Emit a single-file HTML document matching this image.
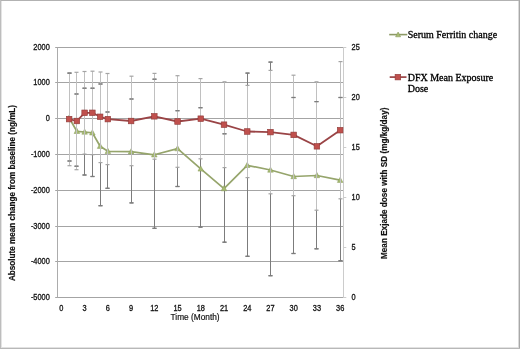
<!DOCTYPE html><html><head><meta charset="utf-8"><style>
html,body{margin:0;padding:0;background:#fff;}
body{width:520px;height:349px;overflow:hidden;position:relative;}
svg{position:absolute;left:0;top:0;filter:blur(0.32px);}
.s{font-family:"Liberation Sans",sans-serif;fill:#111;stroke:#111;stroke-width:0.18px;}
.t{stroke-width:0.3px;}
.r{font-family:"Liberation Serif",serif;fill:#000;stroke:#000;stroke-width:0.3px;}
</style></head><body>
<svg width="520" height="349" viewBox="0 0 520 349">
<rect x="0" y="0" width="520" height="349" fill="#fff"/>
<line x1="55.2" y1="47.50" x2="343.5" y2="47.50" stroke="#a4a4a4" stroke-width="1"/>
<line x1="55.2" y1="82.50" x2="343.5" y2="82.50" stroke="#a4a4a4" stroke-width="1"/>
<line x1="55.2" y1="118.50" x2="343.5" y2="118.50" stroke="#a4a4a4" stroke-width="1"/>
<line x1="55.2" y1="154.50" x2="343.5" y2="154.50" stroke="#a4a4a4" stroke-width="1"/>
<line x1="55.2" y1="190.50" x2="343.5" y2="190.50" stroke="#a4a4a4" stroke-width="1"/>
<line x1="55.2" y1="226.50" x2="343.5" y2="226.50" stroke="#a4a4a4" stroke-width="1"/>
<line x1="55.2" y1="261.50" x2="343.5" y2="261.50" stroke="#a4a4a4" stroke-width="1"/>
<line x1="55.2" y1="297.50" x2="343.5" y2="297.50" stroke="#a4a4a4" stroke-width="1"/>
<line x1="57.5" y1="47.5" x2="57.5" y2="297.5" stroke="#acacac" stroke-width="1"/>
<line x1="343.5" y1="47.5" x2="343.5" y2="297.5" stroke="#cccccc" stroke-width="1"/>
<line x1="343.5" y1="47.50" x2="346.3" y2="47.50" stroke="#cccccc" stroke-width="1"/>
<line x1="343.5" y1="97.50" x2="346.3" y2="97.50" stroke="#cccccc" stroke-width="1"/>
<line x1="343.5" y1="147.50" x2="346.3" y2="147.50" stroke="#cccccc" stroke-width="1"/>
<line x1="343.5" y1="197.50" x2="346.3" y2="197.50" stroke="#cccccc" stroke-width="1"/>
<line x1="343.5" y1="247.50" x2="346.3" y2="247.50" stroke="#cccccc" stroke-width="1"/>
<line x1="343.5" y1="297.50" x2="346.3" y2="297.50" stroke="#cccccc" stroke-width="1"/>
<text class="s t" transform="translate(49.8,50.30) scale(0.88,1)" font-size="8.4" text-anchor="end">2000</text>
<text class="s t" transform="translate(49.8,85.30) scale(0.88,1)" font-size="8.4" text-anchor="end">1000</text>
<text class="s t" transform="translate(49.8,121.30) scale(0.88,1)" font-size="8.4" text-anchor="end">0</text>
<text class="s t" transform="translate(49.8,157.30) scale(0.88,1)" font-size="8.4" text-anchor="end">-1000</text>
<text class="s t" transform="translate(49.8,193.30) scale(0.88,1)" font-size="8.4" text-anchor="end">-2000</text>
<text class="s t" transform="translate(49.8,229.30) scale(0.88,1)" font-size="8.4" text-anchor="end">-3000</text>
<text class="s t" transform="translate(49.8,264.30) scale(0.88,1)" font-size="8.4" text-anchor="end">-4000</text>
<text class="s t" transform="translate(49.8,300.30) scale(0.88,1)" font-size="8.4" text-anchor="end">-5000</text>
<text class="s t" transform="translate(351.6,49.90) scale(0.88,1)" font-size="8.4">25</text>
<text class="s t" transform="translate(351.6,99.90) scale(0.88,1)" font-size="8.4">20</text>
<text class="s t" transform="translate(351.6,149.90) scale(0.88,1)" font-size="8.4">15</text>
<text class="s t" transform="translate(351.6,199.90) scale(0.88,1)" font-size="8.4">10</text>
<text class="s t" transform="translate(351.6,249.90) scale(0.88,1)" font-size="8.4">5</text>
<text class="s t" transform="translate(351.6,299.90) scale(0.88,1)" font-size="8.4">0</text>
<text class="s t" transform="translate(61.40,310.9) scale(0.88,1)" font-size="8.4" text-anchor="middle">0</text>
<text class="s t" transform="translate(84.63,310.9) scale(0.88,1)" font-size="8.4" text-anchor="middle">3</text>
<text class="s t" transform="translate(107.86,310.9) scale(0.88,1)" font-size="8.4" text-anchor="middle">6</text>
<text class="s t" transform="translate(131.09,310.9) scale(0.88,1)" font-size="8.4" text-anchor="middle">9</text>
<text class="s t" transform="translate(154.32,310.9) scale(0.88,1)" font-size="8.4" text-anchor="middle">12</text>
<text class="s t" transform="translate(177.55,310.9) scale(0.88,1)" font-size="8.4" text-anchor="middle">15</text>
<text class="s t" transform="translate(200.77,310.9) scale(0.88,1)" font-size="8.4" text-anchor="middle">18</text>
<text class="s t" transform="translate(224.00,310.9) scale(0.88,1)" font-size="8.4" text-anchor="middle">21</text>
<text class="s t" transform="translate(247.23,310.9) scale(0.88,1)" font-size="8.4" text-anchor="middle">24</text>
<text class="s t" transform="translate(270.46,310.9) scale(0.88,1)" font-size="8.4" text-anchor="middle">27</text>
<text class="s t" transform="translate(293.69,310.9) scale(0.88,1)" font-size="8.4" text-anchor="middle">30</text>
<text class="s t" transform="translate(316.92,310.9) scale(0.88,1)" font-size="8.4" text-anchor="middle">33</text>
<text class="s t" transform="translate(340.15,310.9) scale(0.88,1)" font-size="8.4" text-anchor="middle">36</text>
<text class="s" x="195.1" y="319.7" font-size="8.3" text-anchor="middle">Time (Month)</text>
<text class="s" font-weight="bold" font-size="8.15" text-anchor="middle" transform="translate(15.3,193) rotate(-90)">Absolute mean change from baseline (ng/mL)</text>
<text class="s" font-weight="bold" font-size="8.2" text-anchor="middle" transform="translate(387.3,183.3) rotate(-90)">Mean Exjade dose with SD (mg/kg/day)</text>
<line x1="69.50" y1="73.20" x2="69.50" y2="161.00" stroke="#7c7c7c" stroke-width="1"/>
<line x1="67.50" y1="73.20" x2="71.50" y2="73.20" stroke="#7c7c7c" stroke-width="1.2"/>
<line x1="67.50" y1="161.00" x2="71.50" y2="161.00" stroke="#7c7c7c" stroke-width="1.2"/>
<line x1="76.50" y1="94.00" x2="76.50" y2="166.20" stroke="#7c7c7c" stroke-width="1"/>
<line x1="74.50" y1="94.00" x2="78.50" y2="94.00" stroke="#7c7c7c" stroke-width="1.2"/>
<line x1="74.50" y1="166.20" x2="78.50" y2="166.20" stroke="#7c7c7c" stroke-width="1.2"/>
<line x1="84.50" y1="88.20" x2="84.50" y2="175.00" stroke="#7c7c7c" stroke-width="1"/>
<line x1="82.50" y1="88.20" x2="86.50" y2="88.20" stroke="#7c7c7c" stroke-width="1.2"/>
<line x1="82.50" y1="175.00" x2="86.50" y2="175.00" stroke="#7c7c7c" stroke-width="1.2"/>
<line x1="92.50" y1="88.20" x2="92.50" y2="176.50" stroke="#7c7c7c" stroke-width="1"/>
<line x1="90.50" y1="88.20" x2="94.50" y2="88.20" stroke="#7c7c7c" stroke-width="1.2"/>
<line x1="90.50" y1="176.50" x2="94.50" y2="176.50" stroke="#7c7c7c" stroke-width="1.2"/>
<line x1="100.50" y1="84.00" x2="100.50" y2="205.70" stroke="#7c7c7c" stroke-width="1"/>
<line x1="98.50" y1="84.00" x2="102.50" y2="84.00" stroke="#7c7c7c" stroke-width="1.2"/>
<line x1="98.50" y1="205.70" x2="102.50" y2="205.70" stroke="#7c7c7c" stroke-width="1.2"/>
<line x1="107.50" y1="112.00" x2="107.50" y2="188.30" stroke="#7c7c7c" stroke-width="1"/>
<line x1="105.50" y1="112.00" x2="109.50" y2="112.00" stroke="#7c7c7c" stroke-width="1.2"/>
<line x1="105.50" y1="188.30" x2="109.50" y2="188.30" stroke="#7c7c7c" stroke-width="1.2"/>
<line x1="131.50" y1="99.00" x2="131.50" y2="202.90" stroke="#7c7c7c" stroke-width="1"/>
<line x1="129.50" y1="99.00" x2="133.50" y2="99.00" stroke="#7c7c7c" stroke-width="1.2"/>
<line x1="129.50" y1="202.90" x2="133.50" y2="202.90" stroke="#7c7c7c" stroke-width="1.2"/>
<line x1="154.50" y1="79.20" x2="154.50" y2="228.30" stroke="#7c7c7c" stroke-width="1"/>
<line x1="152.50" y1="79.20" x2="156.50" y2="79.20" stroke="#7c7c7c" stroke-width="1.2"/>
<line x1="152.50" y1="228.30" x2="156.50" y2="228.30" stroke="#7c7c7c" stroke-width="1.2"/>
<line x1="177.50" y1="110.70" x2="177.50" y2="186.50" stroke="#7c7c7c" stroke-width="1"/>
<line x1="175.50" y1="110.70" x2="179.50" y2="110.70" stroke="#7c7c7c" stroke-width="1.2"/>
<line x1="175.50" y1="186.50" x2="179.50" y2="186.50" stroke="#7c7c7c" stroke-width="1.2"/>
<line x1="200.50" y1="107.70" x2="200.50" y2="227.10" stroke="#7c7c7c" stroke-width="1"/>
<line x1="198.50" y1="107.70" x2="202.50" y2="107.70" stroke="#7c7c7c" stroke-width="1.2"/>
<line x1="198.50" y1="227.10" x2="202.50" y2="227.10" stroke="#7c7c7c" stroke-width="1.2"/>
<line x1="224.50" y1="133.80" x2="224.50" y2="242.20" stroke="#7c7c7c" stroke-width="1"/>
<line x1="222.50" y1="133.80" x2="226.50" y2="133.80" stroke="#7c7c7c" stroke-width="1.2"/>
<line x1="222.50" y1="242.20" x2="226.50" y2="242.20" stroke="#7c7c7c" stroke-width="1.2"/>
<line x1="247.50" y1="73.10" x2="247.50" y2="256.30" stroke="#7c7c7c" stroke-width="1"/>
<line x1="245.50" y1="73.10" x2="249.50" y2="73.10" stroke="#7c7c7c" stroke-width="1.2"/>
<line x1="245.50" y1="256.30" x2="249.50" y2="256.30" stroke="#7c7c7c" stroke-width="1.2"/>
<line x1="270.50" y1="62.10" x2="270.50" y2="275.70" stroke="#7c7c7c" stroke-width="1"/>
<line x1="268.50" y1="62.10" x2="272.50" y2="62.10" stroke="#7c7c7c" stroke-width="1.2"/>
<line x1="268.50" y1="275.70" x2="272.50" y2="275.70" stroke="#7c7c7c" stroke-width="1.2"/>
<line x1="293.50" y1="97.50" x2="293.50" y2="253.50" stroke="#7c7c7c" stroke-width="1"/>
<line x1="291.50" y1="97.50" x2="295.50" y2="97.50" stroke="#7c7c7c" stroke-width="1.2"/>
<line x1="291.50" y1="253.50" x2="295.50" y2="253.50" stroke="#7c7c7c" stroke-width="1.2"/>
<line x1="316.50" y1="101.60" x2="316.50" y2="248.80" stroke="#7c7c7c" stroke-width="1"/>
<line x1="314.50" y1="101.60" x2="318.50" y2="101.60" stroke="#7c7c7c" stroke-width="1.2"/>
<line x1="314.50" y1="248.80" x2="318.50" y2="248.80" stroke="#7c7c7c" stroke-width="1.2"/>
<line x1="340.50" y1="97.50" x2="340.50" y2="260.70" stroke="#7c7c7c" stroke-width="1"/>
<line x1="338.50" y1="97.50" x2="342.50" y2="97.50" stroke="#7c7c7c" stroke-width="1.2"/>
<line x1="338.50" y1="260.70" x2="342.50" y2="260.70" stroke="#7c7c7c" stroke-width="1.2"/>
<polyline points="69.14,118.00 76.89,131.30 84.63,132.00 92.37,132.80 100.12,146.20 107.86,151.30 131.09,151.70 154.32,154.80 177.55,148.60 200.77,168.90 224.00,188.60 247.23,165.30 270.46,170.00 293.69,176.50 316.92,175.50 340.15,180.20" fill="none" stroke="#96a56c" stroke-width="1.7" stroke-linejoin="round"/>
<path d="M69.14,115.00 L71.94,120.20 L66.34,120.20 Z" fill="#a8bc72" stroke="#86985a" stroke-width="0.5"/>
<path d="M76.89,128.30 L79.69,133.50 L74.09,133.50 Z" fill="#a8bc72" stroke="#86985a" stroke-width="0.5"/>
<path d="M84.63,129.00 L87.43,134.20 L81.83,134.20 Z" fill="#a8bc72" stroke="#86985a" stroke-width="0.5"/>
<path d="M92.37,129.80 L95.17,135.00 L89.57,135.00 Z" fill="#a8bc72" stroke="#86985a" stroke-width="0.5"/>
<path d="M100.12,143.20 L102.92,148.40 L97.32,148.40 Z" fill="#a8bc72" stroke="#86985a" stroke-width="0.5"/>
<path d="M107.86,148.30 L110.66,153.50 L105.06,153.50 Z" fill="#a8bc72" stroke="#86985a" stroke-width="0.5"/>
<path d="M131.09,148.70 L133.89,153.90 L128.29,153.90 Z" fill="#a8bc72" stroke="#86985a" stroke-width="0.5"/>
<path d="M154.32,151.80 L157.12,157.00 L151.52,157.00 Z" fill="#a8bc72" stroke="#86985a" stroke-width="0.5"/>
<path d="M177.55,145.60 L180.35,150.80 L174.75,150.80 Z" fill="#a8bc72" stroke="#86985a" stroke-width="0.5"/>
<path d="M200.77,165.90 L203.57,171.10 L197.97,171.10 Z" fill="#a8bc72" stroke="#86985a" stroke-width="0.5"/>
<path d="M224.00,185.60 L226.80,190.80 L221.20,190.80 Z" fill="#a8bc72" stroke="#86985a" stroke-width="0.5"/>
<path d="M247.23,162.30 L250.03,167.50 L244.43,167.50 Z" fill="#a8bc72" stroke="#86985a" stroke-width="0.5"/>
<path d="M270.46,167.00 L273.26,172.20 L267.66,172.20 Z" fill="#a8bc72" stroke="#86985a" stroke-width="0.5"/>
<path d="M293.69,173.50 L296.49,178.70 L290.89,178.70 Z" fill="#a8bc72" stroke="#86985a" stroke-width="0.5"/>
<path d="M316.92,172.50 L319.72,177.70 L314.12,177.70 Z" fill="#a8bc72" stroke="#86985a" stroke-width="0.5"/>
<path d="M340.15,177.20 L342.95,182.40 L337.35,182.40 Z" fill="#a8bc72" stroke="#86985a" stroke-width="0.5"/>
<line x1="69.50" y1="72.80" x2="69.50" y2="165.70" stroke="#c0c0c0" stroke-width="1"/>
<line x1="67.50" y1="72.80" x2="71.50" y2="72.80" stroke="#a4a4a4" stroke-width="1.2"/>
<line x1="67.50" y1="165.70" x2="71.50" y2="165.70" stroke="#a4a4a4" stroke-width="1.2"/>
<line x1="76.50" y1="72.30" x2="76.50" y2="169.70" stroke="#c0c0c0" stroke-width="1"/>
<line x1="74.50" y1="72.30" x2="78.50" y2="72.30" stroke="#a4a4a4" stroke-width="1.2"/>
<line x1="74.50" y1="169.70" x2="78.50" y2="169.70" stroke="#a4a4a4" stroke-width="1.2"/>
<line x1="84.50" y1="71.50" x2="84.50" y2="154.10" stroke="#c0c0c0" stroke-width="1"/>
<line x1="82.50" y1="71.50" x2="86.50" y2="71.50" stroke="#a4a4a4" stroke-width="1.2"/>
<line x1="82.50" y1="154.10" x2="86.50" y2="154.10" stroke="#a4a4a4" stroke-width="1.2"/>
<line x1="92.50" y1="71.20" x2="92.50" y2="154.70" stroke="#c0c0c0" stroke-width="1"/>
<line x1="90.50" y1="71.20" x2="94.50" y2="71.20" stroke="#a4a4a4" stroke-width="1.2"/>
<line x1="90.50" y1="154.70" x2="94.50" y2="154.70" stroke="#a4a4a4" stroke-width="1.2"/>
<line x1="100.50" y1="72.00" x2="100.50" y2="162.60" stroke="#c0c0c0" stroke-width="1"/>
<line x1="98.50" y1="72.00" x2="102.50" y2="72.00" stroke="#a4a4a4" stroke-width="1.2"/>
<line x1="98.50" y1="162.60" x2="102.50" y2="162.60" stroke="#a4a4a4" stroke-width="1.2"/>
<line x1="107.50" y1="73.50" x2="107.50" y2="164.60" stroke="#c0c0c0" stroke-width="1"/>
<line x1="105.50" y1="73.50" x2="109.50" y2="73.50" stroke="#a4a4a4" stroke-width="1.2"/>
<line x1="105.50" y1="164.60" x2="109.50" y2="164.60" stroke="#a4a4a4" stroke-width="1.2"/>
<line x1="131.50" y1="76.20" x2="131.50" y2="165.70" stroke="#c0c0c0" stroke-width="1"/>
<line x1="129.50" y1="76.20" x2="133.50" y2="76.20" stroke="#a4a4a4" stroke-width="1.2"/>
<line x1="129.50" y1="165.70" x2="133.50" y2="165.70" stroke="#a4a4a4" stroke-width="1.2"/>
<line x1="154.50" y1="73.40" x2="154.50" y2="159.20" stroke="#c0c0c0" stroke-width="1"/>
<line x1="152.50" y1="73.40" x2="156.50" y2="73.40" stroke="#a4a4a4" stroke-width="1.2"/>
<line x1="152.50" y1="159.20" x2="156.50" y2="159.20" stroke="#a4a4a4" stroke-width="1.2"/>
<line x1="177.50" y1="75.70" x2="177.50" y2="167.30" stroke="#c0c0c0" stroke-width="1"/>
<line x1="175.50" y1="75.70" x2="179.50" y2="75.70" stroke="#a4a4a4" stroke-width="1.2"/>
<line x1="175.50" y1="167.30" x2="179.50" y2="167.30" stroke="#a4a4a4" stroke-width="1.2"/>
<line x1="200.50" y1="78.60" x2="200.50" y2="158.80" stroke="#c0c0c0" stroke-width="1"/>
<line x1="198.50" y1="78.60" x2="202.50" y2="78.60" stroke="#a4a4a4" stroke-width="1.2"/>
<line x1="198.50" y1="158.80" x2="202.50" y2="158.80" stroke="#a4a4a4" stroke-width="1.2"/>
<line x1="224.50" y1="81.80" x2="224.50" y2="167.60" stroke="#c0c0c0" stroke-width="1"/>
<line x1="222.50" y1="81.80" x2="226.50" y2="81.80" stroke="#a4a4a4" stroke-width="1.2"/>
<line x1="222.50" y1="167.60" x2="226.50" y2="167.60" stroke="#a4a4a4" stroke-width="1.2"/>
<line x1="247.50" y1="85.40" x2="247.50" y2="177.60" stroke="#c0c0c0" stroke-width="1"/>
<line x1="245.50" y1="85.40" x2="249.50" y2="85.40" stroke="#a4a4a4" stroke-width="1.2"/>
<line x1="245.50" y1="177.60" x2="249.50" y2="177.60" stroke="#a4a4a4" stroke-width="1.2"/>
<line x1="270.50" y1="70.40" x2="270.50" y2="193.80" stroke="#c0c0c0" stroke-width="1"/>
<line x1="268.50" y1="70.40" x2="272.50" y2="70.40" stroke="#a4a4a4" stroke-width="1.2"/>
<line x1="268.50" y1="193.80" x2="272.50" y2="193.80" stroke="#a4a4a4" stroke-width="1.2"/>
<line x1="293.50" y1="75.20" x2="293.50" y2="195.70" stroke="#c0c0c0" stroke-width="1"/>
<line x1="291.50" y1="75.20" x2="295.50" y2="75.20" stroke="#a4a4a4" stroke-width="1.2"/>
<line x1="291.50" y1="195.70" x2="295.50" y2="195.70" stroke="#a4a4a4" stroke-width="1.2"/>
<line x1="316.50" y1="81.80" x2="316.50" y2="210.20" stroke="#c0c0c0" stroke-width="1"/>
<line x1="314.50" y1="81.80" x2="318.50" y2="81.80" stroke="#a4a4a4" stroke-width="1.2"/>
<line x1="314.50" y1="210.20" x2="318.50" y2="210.20" stroke="#a4a4a4" stroke-width="1.2"/>
<line x1="340.50" y1="61.60" x2="340.50" y2="198.80" stroke="#c0c0c0" stroke-width="1"/>
<line x1="338.50" y1="61.60" x2="342.50" y2="61.60" stroke="#a4a4a4" stroke-width="1.2"/>
<line x1="338.50" y1="198.80" x2="342.50" y2="198.80" stroke="#a4a4a4" stroke-width="1.2"/>
<line x1="67.50" y1="73.20" x2="71.50" y2="73.20" stroke="#7c7c7c" stroke-width="1.2"/>
<line x1="67.50" y1="161.00" x2="71.50" y2="161.00" stroke="#7c7c7c" stroke-width="1.2"/>
<line x1="74.50" y1="94.00" x2="78.50" y2="94.00" stroke="#7c7c7c" stroke-width="1.2"/>
<line x1="74.50" y1="166.20" x2="78.50" y2="166.20" stroke="#7c7c7c" stroke-width="1.2"/>
<line x1="82.50" y1="88.20" x2="86.50" y2="88.20" stroke="#7c7c7c" stroke-width="1.2"/>
<line x1="82.50" y1="175.00" x2="86.50" y2="175.00" stroke="#7c7c7c" stroke-width="1.2"/>
<line x1="90.50" y1="88.20" x2="94.50" y2="88.20" stroke="#7c7c7c" stroke-width="1.2"/>
<line x1="90.50" y1="176.50" x2="94.50" y2="176.50" stroke="#7c7c7c" stroke-width="1.2"/>
<line x1="98.50" y1="84.00" x2="102.50" y2="84.00" stroke="#7c7c7c" stroke-width="1.2"/>
<line x1="98.50" y1="205.70" x2="102.50" y2="205.70" stroke="#7c7c7c" stroke-width="1.2"/>
<line x1="105.50" y1="112.00" x2="109.50" y2="112.00" stroke="#7c7c7c" stroke-width="1.2"/>
<line x1="105.50" y1="188.30" x2="109.50" y2="188.30" stroke="#7c7c7c" stroke-width="1.2"/>
<line x1="129.50" y1="99.00" x2="133.50" y2="99.00" stroke="#7c7c7c" stroke-width="1.2"/>
<line x1="129.50" y1="202.90" x2="133.50" y2="202.90" stroke="#7c7c7c" stroke-width="1.2"/>
<line x1="152.50" y1="79.20" x2="156.50" y2="79.20" stroke="#7c7c7c" stroke-width="1.2"/>
<line x1="152.50" y1="228.30" x2="156.50" y2="228.30" stroke="#7c7c7c" stroke-width="1.2"/>
<line x1="175.50" y1="110.70" x2="179.50" y2="110.70" stroke="#7c7c7c" stroke-width="1.2"/>
<line x1="175.50" y1="186.50" x2="179.50" y2="186.50" stroke="#7c7c7c" stroke-width="1.2"/>
<line x1="198.50" y1="107.70" x2="202.50" y2="107.70" stroke="#7c7c7c" stroke-width="1.2"/>
<line x1="198.50" y1="227.10" x2="202.50" y2="227.10" stroke="#7c7c7c" stroke-width="1.2"/>
<line x1="222.50" y1="133.80" x2="226.50" y2="133.80" stroke="#7c7c7c" stroke-width="1.2"/>
<line x1="222.50" y1="242.20" x2="226.50" y2="242.20" stroke="#7c7c7c" stroke-width="1.2"/>
<line x1="245.50" y1="73.10" x2="249.50" y2="73.10" stroke="#7c7c7c" stroke-width="1.2"/>
<line x1="245.50" y1="256.30" x2="249.50" y2="256.30" stroke="#7c7c7c" stroke-width="1.2"/>
<line x1="268.50" y1="62.10" x2="272.50" y2="62.10" stroke="#7c7c7c" stroke-width="1.2"/>
<line x1="268.50" y1="275.70" x2="272.50" y2="275.70" stroke="#7c7c7c" stroke-width="1.2"/>
<line x1="291.50" y1="97.50" x2="295.50" y2="97.50" stroke="#7c7c7c" stroke-width="1.2"/>
<line x1="291.50" y1="253.50" x2="295.50" y2="253.50" stroke="#7c7c7c" stroke-width="1.2"/>
<line x1="314.50" y1="101.60" x2="318.50" y2="101.60" stroke="#7c7c7c" stroke-width="1.2"/>
<line x1="314.50" y1="248.80" x2="318.50" y2="248.80" stroke="#7c7c7c" stroke-width="1.2"/>
<line x1="338.50" y1="97.50" x2="342.50" y2="97.50" stroke="#7c7c7c" stroke-width="1.2"/>
<line x1="338.50" y1="260.70" x2="342.50" y2="260.70" stroke="#7c7c7c" stroke-width="1.2"/>
<polyline points="69.14,119.10 76.89,121.00 84.63,112.80 92.37,112.80 100.12,116.80 107.86,119.10 131.09,121.00 154.32,116.30 177.55,121.50 200.77,118.70 224.00,124.70 247.23,131.50 270.46,132.10 293.69,134.90 316.92,146.30 340.15,130.20" fill="none" stroke="#9a4446" stroke-width="1.8" stroke-linejoin="round"/>
<rect x="66.34" y="116.30" width="5.6" height="5.6" fill="#c0504d" stroke="#8e3a38" stroke-width="0.6"/>
<rect x="74.09" y="118.20" width="5.6" height="5.6" fill="#c0504d" stroke="#8e3a38" stroke-width="0.6"/>
<rect x="81.83" y="110.00" width="5.6" height="5.6" fill="#c0504d" stroke="#8e3a38" stroke-width="0.6"/>
<rect x="89.57" y="110.00" width="5.6" height="5.6" fill="#c0504d" stroke="#8e3a38" stroke-width="0.6"/>
<rect x="97.32" y="114.00" width="5.6" height="5.6" fill="#c0504d" stroke="#8e3a38" stroke-width="0.6"/>
<rect x="105.06" y="116.30" width="5.6" height="5.6" fill="#c0504d" stroke="#8e3a38" stroke-width="0.6"/>
<rect x="128.29" y="118.20" width="5.6" height="5.6" fill="#c0504d" stroke="#8e3a38" stroke-width="0.6"/>
<rect x="151.52" y="113.50" width="5.6" height="5.6" fill="#c0504d" stroke="#8e3a38" stroke-width="0.6"/>
<rect x="174.75" y="118.70" width="5.6" height="5.6" fill="#c0504d" stroke="#8e3a38" stroke-width="0.6"/>
<rect x="197.97" y="115.90" width="5.6" height="5.6" fill="#c0504d" stroke="#8e3a38" stroke-width="0.6"/>
<rect x="221.20" y="121.90" width="5.6" height="5.6" fill="#c0504d" stroke="#8e3a38" stroke-width="0.6"/>
<rect x="244.43" y="128.70" width="5.6" height="5.6" fill="#c0504d" stroke="#8e3a38" stroke-width="0.6"/>
<rect x="267.66" y="129.30" width="5.6" height="5.6" fill="#c0504d" stroke="#8e3a38" stroke-width="0.6"/>
<rect x="290.89" y="132.10" width="5.6" height="5.6" fill="#c0504d" stroke="#8e3a38" stroke-width="0.6"/>
<rect x="314.12" y="143.50" width="5.6" height="5.6" fill="#c0504d" stroke="#8e3a38" stroke-width="0.6"/>
<rect x="337.35" y="127.40" width="5.6" height="5.6" fill="#c0504d" stroke="#8e3a38" stroke-width="0.6"/>
<line x1="389.2" y1="34.6" x2="407.3" y2="34.6" stroke="#8d9a66" stroke-width="1.6"/>
<path d="M398.1,32 L400.6,36.8 L395.6,36.8 Z" fill="#a8bc72" stroke="#86985a" stroke-width="0.6"/>
<text class="r" x="407.7" y="38.2" font-size="10">Serum Ferritin change</text>
<line x1="389.7" y1="77.1" x2="406.5" y2="77.1" stroke="#9a4446" stroke-width="1.7"/>
<rect x="395.1" y="74.3" width="5.6" height="5.6" fill="#c0504d" stroke="#8e3a38" stroke-width="0.6"/>
<text class="r" x="407.7" y="80.8" font-size="10">DFX Mean Exposure</text>
<text class="r" x="407.7" y="92.1" font-size="10">Dose</text>
</svg>
<div style="position:absolute;left:0;top:0;width:520px;height:1px;background:#b2b2b2"></div>
<div style="position:absolute;left:0;top:0;width:1px;height:349px;background:#bdbdbd"></div>
<div style="position:absolute;left:1px;top:1px;width:1px;height:347px;background:#e4e4e4"></div>
<div style="position:absolute;left:519px;top:0;width:1px;height:349px;background:#a8a8a8"></div>
<div style="position:absolute;left:518px;top:1px;width:1px;height:347px;background:#dadada"></div>
<div style="position:absolute;left:0;top:348px;width:520px;height:1px;background:#b8b8b8"></div>
<div style="position:absolute;left:1px;top:347px;width:517px;height:1px;background:#e2e2e2"></div>
</body></html>
